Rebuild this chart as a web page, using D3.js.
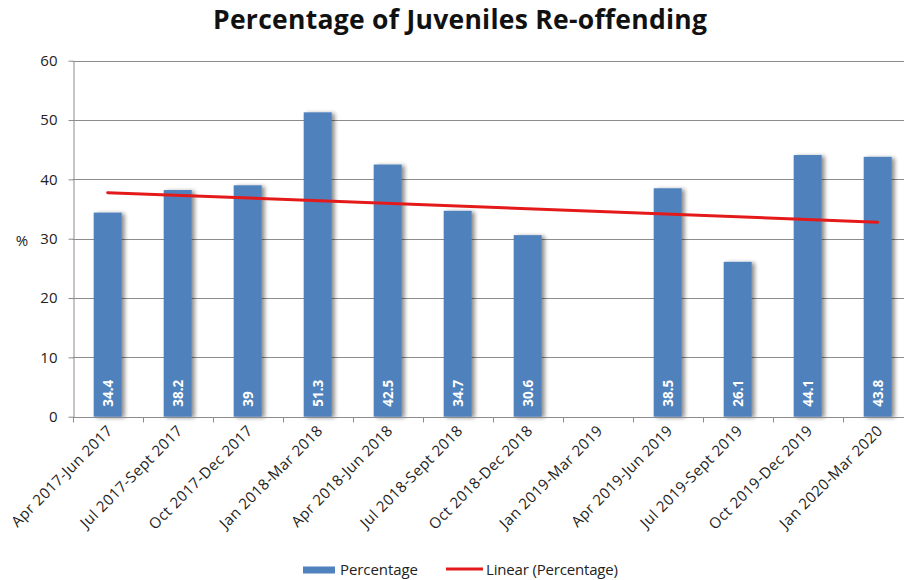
<!DOCTYPE html>
<html>
<head>
<meta charset="utf-8">
<script src="https://cdn.jsdelivr.net/npm/d3@7"></script>
<style>
  html, body { margin: 0; padding: 0; background: #fff; }
  svg { display: block; font-family: "Open Sans", "Noto Sans", sans-serif; }
</style>
</head>
<body>
<svg id="chart" width="904" height="580"></svg>
<script>
const categories = [
  "Apr 2017-Jun 2017", "Jul 2017-Sept 2017", "Oct 2017-Dec 2017", "Jan 2018-Mar 2018",
  "Apr 2018-Jun 2018", "Jul 2018-Sept 2018", "Oct 2018-Dec 2018", "Jan 2019-Mar 2019",
  "Apr 2019-Jun 2019", "Jul 2019-Sept 2019", "Oct 2019-Dec 2019", "Jan 2020-Mar 2020"
];
const percentage = [34.4, 38.2, 39, 51.3, 42.5, 34.7, 30.6, null, 38.5, 26.1, 44.1, 43.8];
const yTicks = [0, 10, 20, 30, 40, 50, 60];
const titleText = "Percentage of Juveniles Re-offending";
const yLabel = "%";
const legendLabels = ["Percentage", "Linear (Percentage)"];

const svg = d3.select("#chart");
const plotLeft = 72.7, plotTop = 60.7, plotBottom = 416.7;
const bandW = 70;
const plotRight = plotLeft + bandW * categories.length;

const x = d3.scaleBand().domain(categories).range([plotLeft, plotRight]).paddingInner(0.6).paddingOuter(0.3);
const y = d3.scaleLinear().domain([0, 60]).range([plotBottom, plotTop]);

// shadow filter
const defs = svg.append("defs");
const f = defs.append("filter").attr("id", "shadow").attr("x", "-20%").attr("y", "-5%").attr("width", "160%").attr("height", "110%");
f.append("feGaussianBlur").attr("in", "SourceAlpha").attr("stdDeviation", 2.2).attr("result", "b");
f.append("feOffset").attr("in", "b").attr("dx", 3).attr("dy", 1).attr("result", "o");
f.append("feComponentTransfer").attr("in", "o").attr("result", "o2")
  .append("feFuncA").attr("type", "linear").attr("slope", 0.45);
const m = f.append("feMerge");
m.append("feMergeNode").attr("in", "o2");
m.append("feMergeNode").attr("in", "SourceGraphic");

// gridlines
svg.append("g").selectAll("line").data(yTicks.filter(d => d > 0)).join("line")
  .attr("x1", plotLeft).attr("x2", 904)
  .attr("y1", d => Math.round(y(d)) + 0.5).attr("y2", d => Math.round(y(d)) + 0.5)
  .attr("stroke", "#8c8c8c").attr("stroke-width", 1);

// y axis
const yAxis = d3.axisLeft(y).tickValues(yTicks).tickSize(5).tickPadding(11).tickSizeOuter(0);
const gy = svg.append("g").attr("transform", `translate(${Math.round(plotLeft) + 0.5},0)`).call(yAxis);
gy.select(".domain").attr("stroke", "#8c8c8c");
gy.selectAll(".tick line").attr("stroke", "#8c8c8c");
gy.selectAll(".tick text").attr("font-size", 15).attr("fill", "#222").attr("font-family", "Open Sans");

// bars
const valid = categories.map((c, i) => ({ c, v: percentage[i] })).filter(d => d.v != null);
svg.append("g").selectAll("rect").data(valid).join("rect")
  .attr("x", d => x(d.c)).attr("width", x.bandwidth())
  .attr("y", d => y(d.v)).attr("height", d => y(0) - y(d.v))
  .attr("fill", "#4f81bd").attr("filter", "url(#shadow)");

// x axis
const xAxis = d3.axisBottom(x).tickSize(0).tickFormat("");
const gx = svg.append("g").attr("transform", `translate(0,${Math.round(plotBottom) + 0.5})`).call(xAxis);
gx.select(".domain").remove();
gx.append("line").attr("x1", plotLeft).attr("x2", 904).attr("stroke", "#8c8c8c");
const boundaries = d3.range(categories.length + 1).map(i => plotLeft + i * bandW).filter(v => v <= 904);
gx.selectAll(".bt").data(boundaries).join("line").attr("class", "bt")
  .attr("x1", d => Math.round(d) + 0.5).attr("x2", d => Math.round(d) + 0.5)
  .attr("y1", 0).attr("y2", 5).attr("stroke", "#8c8c8c");

// x labels
svg.append("g").selectAll("text").data(categories).join("text")
  .attr("transform", d => `translate(${x(d) + x.bandwidth() / 2 + 6},${plotBottom + 15}) rotate(-45)`)
  .attr("text-anchor", "end")
  .attr("font-size", 15).attr("letter-spacing", 0.45).attr("fill", "#222")
  .text(d => d);

// value labels
svg.append("g").selectAll("text").data(valid).join("text")
  .attr("transform", d => `translate(${x(d.c) + x.bandwidth() / 2 + 5},${plotBottom - 10}) rotate(-90)`)
  .attr("text-anchor", "start")
  .attr("font-size", 13.5).attr("font-weight", "bold").attr("fill", "#fff")
  .text(d => String(d.v));

// linear trendline (Excel treats blank as 0)
const xs = d3.range(1, categories.length + 1);
const ys = percentage.map(v => v == null ? 0 : v);
const mx = d3.mean(xs), my = d3.mean(ys);
const slope = d3.sum(xs, (xi, i) => (xi - mx) * (ys[i] - my)) / d3.sum(xs, xi => (xi - mx) ** 2);
const intercept = my - slope * mx;
const trend = xs.map((xi, i) => ({ c: categories[i], v: intercept + slope * xi }));
const line = d3.line().x(d => x(d.c) + x.bandwidth() / 2).y(d => y(d.v));
svg.append("path").datum([trend[0], trend[trend.length - 1]])
  .attr("d", line).attr("fill", "none").attr("stroke", "#e41a1a").attr("stroke-width", 3)
  .attr("stroke-linecap", "round");

// y label
svg.append("text").attr("x", 22).attr("y", 246).attr("text-anchor", "middle")
  .attr("font-size", 15).attr("fill", "#222").text(yLabel);

// title
svg.append("text").attr("x", 460).attr("y", 29).attr("text-anchor", "middle")
  .attr("font-size", 26.5).attr("font-weight", "bold").attr("fill", "#111")
  .attr("textLength", 494).attr("lengthAdjust", "spacing").text(titleText);

// legend
const lg = svg.append("g");
lg.append("rect").attr("x", 303).attr("y", 566.5).attr("width", 32).attr("height", 7).attr("fill", "#4f81bd");
lg.append("text").attr("x", 340).attr("y", 575).attr("font-size", 15).attr("fill", "#222")
  .attr("textLength", 78).attr("lengthAdjust", "spacing").text(legendLabels[0]);
lg.append("line").attr("x1", 446).attr("x2", 483).attr("y1", 569).attr("y2", 569)
  .attr("stroke", "#e41a1a").attr("stroke-width", 3);
lg.append("text").attr("x", 486).attr("y", 575).attr("font-size", 15).attr("fill", "#222")
  .attr("textLength", 132).attr("lengthAdjust", "spacing").text(legendLabels[1]);
</script>
</body>
</html>
